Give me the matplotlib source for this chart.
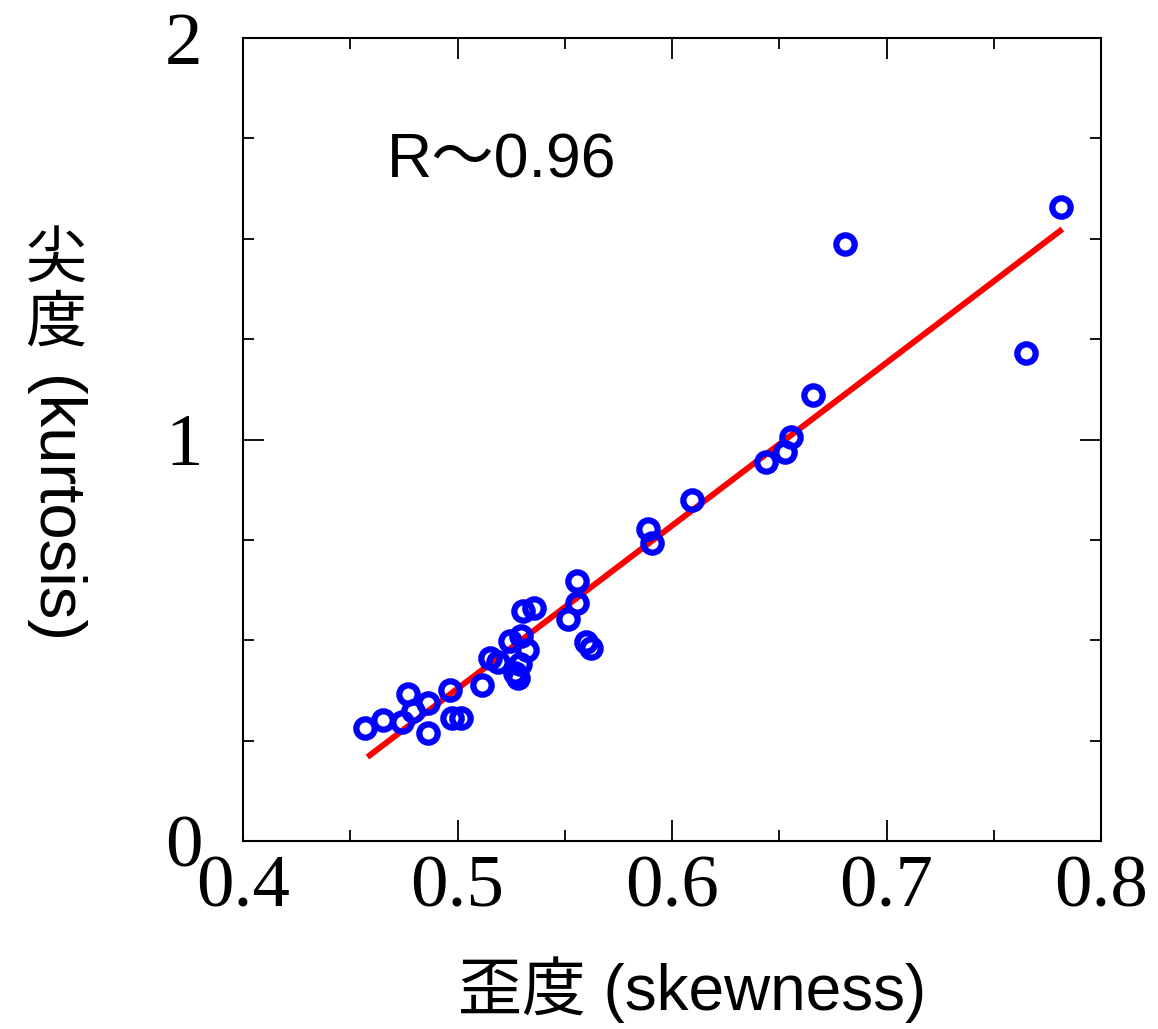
import matplotlib
matplotlib.use("Agg")
import matplotlib.pyplot as plt
import numpy as np
from matplotlib.ticker import MultipleLocator

# data
skewness = [0.4569, 0.4653, 0.4741, 0.4769, 0.4793, 0.4862, 0.4862, 0.4965, 0.4974,
            0.5016, 0.5114, 0.5152, 0.5189, 0.5245, 0.5268, 0.5282, 0.5291, 0.5296,
            0.5305, 0.5324, 0.5357, 0.5515, 0.5557, 0.5557, 0.5599, 0.5622, 0.5888,
            0.5907, 0.6093, 0.6438, 0.6527, 0.6555, 0.6657, 0.6807, 0.7650, 0.7814]
kurtosis = [0.281, 0.301, 0.296, 0.366, 0.324, 0.344, 0.269, 0.376, 0.306,
            0.306, 0.389, 0.456, 0.446, 0.498, 0.418, 0.406, 0.441, 0.511,
            0.573, 0.476, 0.580, 0.553, 0.648, 0.593, 0.496, 0.481, 0.777,
            0.742, 0.849, 0.944, 0.969, 1.006, 1.111, 1.487, 1.215, 1.579]
fit_x = [0.458, 0.782]
fit_y = [0.209, 1.524]
x_ticks = [0.4, 0.5, 0.6, 0.7, 0.8]
x_tick_labels = ["0.4", "0.5", "0.6", "0.7", "0.8"]
y_ticks = [0, 1, 2]
y_tick_labels = ["0", "1", "2"]
annotation = "R\uff5e0.96"
xlabel = "歪度 (skewness)"
ylabel_cjk = ["尖", "度"]
ylabel_latin = "(kurtosis)"

sans = ["Liberation Sans", "Noto Sans CJK JP", "DejaVu Sans"]

fig = plt.figure(figsize=(11.58, 10.29), dpi=100)
ax = fig.add_axes([243/1158, 1-841/1029, (1101-243)/1158, (841-38)/1029])

ax.plot(fit_x, fit_y, color="#ff0000", lw=4.3, solid_capstyle="butt", zorder=2)
ax.plot(skewness, kurtosis, linestyle="none", marker="o", markersize=13.2,
        markerfacecolor="none", markeredgecolor="#0000ff", markeredgewidth=4.5, zorder=3)

ax.set_xlim(0.4, 0.8)
ax.set_ylim(0, 2)
ax.set_xticks(x_ticks)
ax.set_xticklabels(x_tick_labels)
ax.set_yticks(y_ticks)
ax.set_yticklabels(y_tick_labels)
ax.xaxis.set_minor_locator(MultipleLocator(0.05))
ax.yaxis.set_minor_locator(MultipleLocator(0.25))

ax.tick_params(which="both", direction="in", top=True, right=True, width=1.3, color="black")
ax.tick_params(which="major", length=15)
ax.tick_params(which="minor", length=8)
ax.tick_params(axis="x", which="major", pad=10)
ax.tick_params(axis="y", which="major", pad=29)
for lab in ax.get_xticklabels() + ax.get_yticklabels():
    lab.set_fontfamily("Liberation Serif")
    lab.set_fontsize(54)
for sp in ax.spines.values():
    sp.set_linewidth(1.5)

ax.text(387/1158, 1-177/1029, annotation, transform=fig.transFigure,
        family=sans, fontsize=45, ha="left", va="baseline")

fig.text(692/1158, 1-990/1029, xlabel, family=sans, fontsize=46, ha="center", va="center")

# y label: CJK characters upright, Latin part rotated
fig.text(56/1158, 1-261/1029, ylabel_cjk[0], family=sans, fontsize=44, ha="center", va="center")
fig.text(56/1158, 1-325/1029, ylabel_cjk[1], family=sans, fontsize=44, ha="center", va="center")
fig.text(53/1158, 1-510/1029, ylabel_latin, family=sans, fontsize=47, ha="center", va="center",
         rotation=-90)

fig.savefig("out.png", dpi=100)
